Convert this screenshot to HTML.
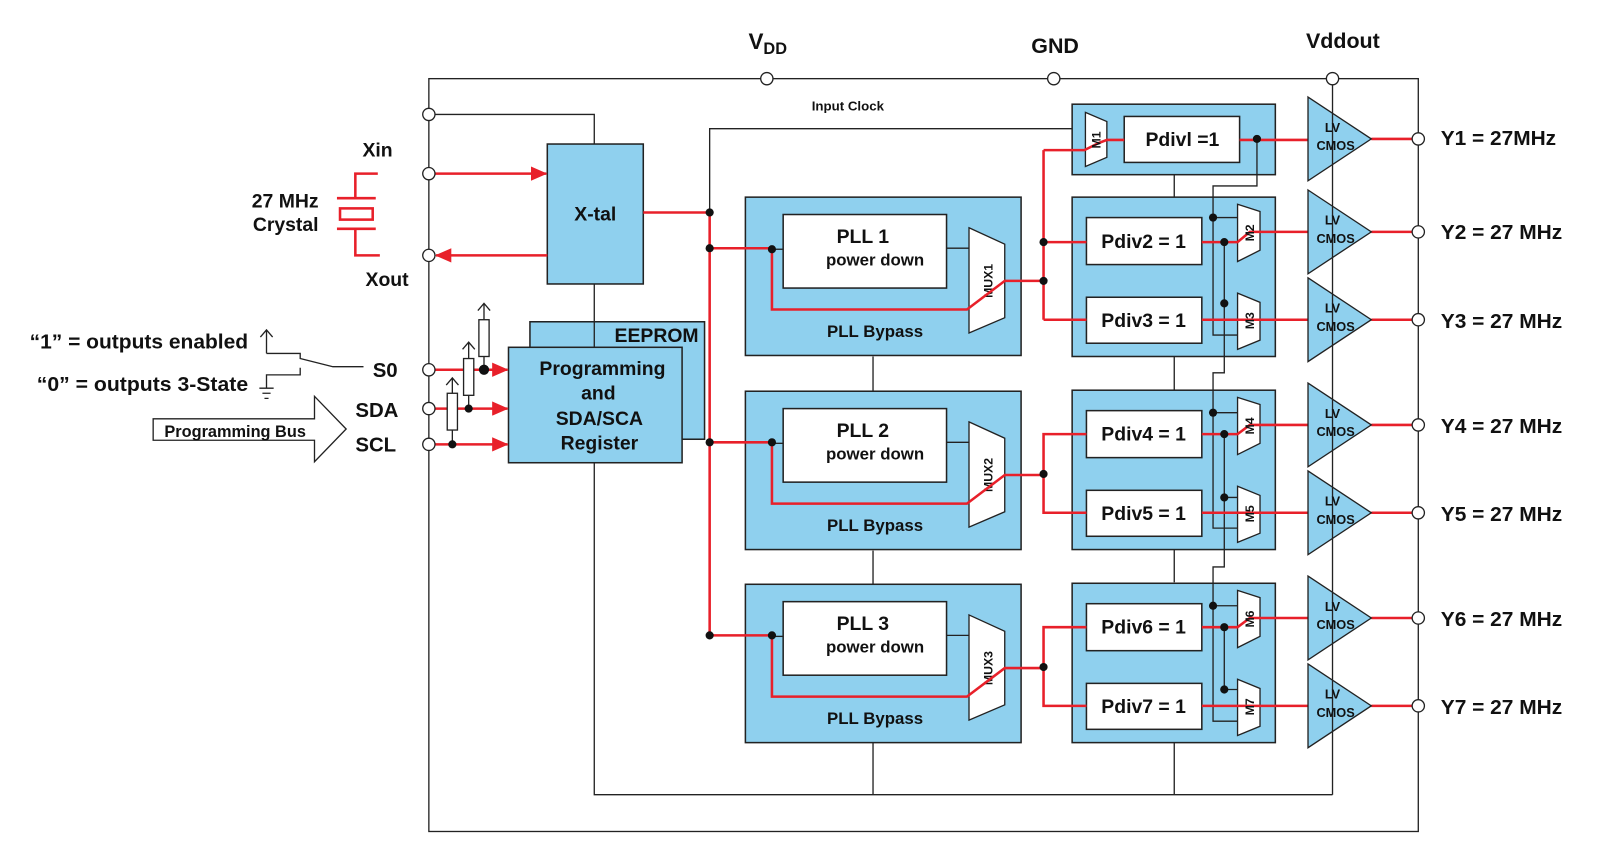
<!DOCTYPE html>
<html><head><meta charset="utf-8"><style>
html,body{margin:0;padding:0;background:#fff}
svg{display:block}
text{font-family:"Liberation Sans",Arial,sans-serif;font-weight:bold;fill:#111}
</style></head><body>
<svg width="1598" height="856" viewBox="0 0 1565 838" preserveAspectRatio="none" xmlns="http://www.w3.org/2000/svg">
<defs>
<marker id="ar" markerWidth="16" markerHeight="14" refX="15" refY="7" orient="auto" markerUnits="userSpaceOnUse" viewBox="0 0 16 14"><path d="M0,0 L16,7 L0,14 z" fill="#e8202a"/></marker>
</defs>
<g fill="none" stroke="#222" stroke-width="1.3">
<rect x="420" y="77" width="969" height="737"/>
<path d="M420,112 H582 V141"/>
<path d="M582,278 V778 H1305"/>
<path d="M855,349 V384 M855,539 V572 M855,727 V778"/>
<path d="M1150,171 V193 M1150,349 V382 M1150,537 V570 M1150,726 V778"/>
<path d="M695,208 V126 H1063"/>
</g>
<text x="733" y="48" font-size="22">V<tspan font-size="16" dy="5">DD</tspan></text>
<text x="1010" y="52" font-size="21">GND</text>
<text x="1279" y="47" font-size="21">Vddout</text>
<text x="795" y="108" font-size="13">Input Clock</text>

<rect x="536" y="141" width="94" height="137" fill="#8fd0ee" stroke="#222" stroke-width="1.5"/>
<text x="583" y="216" font-size="19" text-anchor="middle">X-tal</text>
<rect x="519" y="315" width="171" height="115" fill="#8fd0ee" stroke="#222" stroke-width="1.5"/>
<text x="643" y="335" font-size="19" text-anchor="middle">EEPROM</text>
<line x1="582" y1="315" x2="582" y2="340" stroke="#222" stroke-width="1.3"/>
<rect x="498" y="340" width="170" height="113" fill="#8fd0ee" stroke="#222" stroke-width="1.5"/>
<g font-size="19" text-anchor="middle">
<text x="590" y="367">Programming</text>
<text x="586" y="391">and</text>
<text x="587" y="416">SDA/SCA</text>
<text x="587" y="440">Register</text>
</g>

<g fill="none" stroke="#e8202a" stroke-width="2.5">
<path d="M370,170 H348 V194 M330,194 H368 M330,224 H368 M348,224 V250 H372"/>
<rect x="333" y="204" width="32" height="11"/>
<line x1="426" y1="170" x2="535" y2="170" marker-end="url(#ar)"/>
<line x1="536" y1="250" x2="427" y2="250" marker-end="url(#ar)"/>
<line x1="426" y1="362" x2="497" y2="362" marker-end="url(#ar)"/>
<line x1="426" y1="400" x2="497" y2="400" marker-end="url(#ar)"/>
<line x1="426" y1="435" x2="497" y2="435" marker-end="url(#ar)"/>
</g>
<text x="355" y="153" font-size="19">Xin</text>
<text x="358" y="280" font-size="19">Xout</text>
<text x="312" y="203" font-size="19" text-anchor="end">27 MHz</text>
<text x="312" y="226" font-size="19" text-anchor="end">Crystal</text>

<g fill="#fff" stroke="#222" stroke-width="1.3">
<path d="M474,297 V313 M468,304 L474,297 L480,304 M474,349 V362" fill="none"/>
<rect x="469" y="313" width="10" height="36"/>
<path d="M459,335 V351 M453,342 L459,335 L465,342 M459,387 V400" fill="none"/>
<rect x="454" y="351" width="10" height="36"/>
<path d="M443,370 V385 M437,377 L443,370 L449,377 M443,421 V435" fill="none"/>
<rect x="438" y="385" width="10" height="36"/>
</g>
<g fill="#111"><circle cx="474" cy="362" r="5"/><circle cx="459" cy="400" r="4"/><circle cx="443" cy="435" r="4"/></g>

<g fill="none" stroke="#222" stroke-width="1.3">
<path d="M261,346 V323 M255,330 L261,323 L267,330 M261,346 H294 V351 L326,359 H356"/>
<path d="M294,360 V367 H261 V380 M254,380 H268 M257,385 H265 M259,390 H263"/>
<polygon points="150,410 308,410 308,388 339,420 308,452 308,431 150,431" fill="#fff"/>
</g>
<text x="243" y="341" font-size="20" text-anchor="end" textLength="214" lengthAdjust="spacingAndGlyphs">“1” = outputs enabled</text>
<text x="243" y="383" font-size="20" text-anchor="end" textLength="207" lengthAdjust="spacingAndGlyphs">“0” = outputs 3-State</text>
<text x="161" y="428" font-size="16">Programming Bus</text>
<text x="365" y="369" font-size="20">S0</text>
<text x="348" y="408" font-size="20">SDA</text>
<text x="348" y="442" font-size="20">SCL</text>

<g fill="#fff" stroke="#222" stroke-width="1.3">
<circle cx="420" cy="112" r="6"/><circle cx="420" cy="170" r="6"/><circle cx="420" cy="250" r="6"/>
<circle cx="420" cy="362" r="6"/><circle cx="420" cy="400" r="6"/><circle cx="420" cy="435" r="6"/>
<circle cx="751" cy="77" r="6"/><circle cx="1032" cy="77" r="6"/><circle cx="1305" cy="77" r="6"/>
</g>

<g id="pll1">
<rect x="730" y="193" width="270" height="155" fill="#8fd0ee" stroke="#222" stroke-width="1.5"/>
<rect x="767" y="210" width="160" height="72" fill="#fff" stroke="#222" stroke-width="1.5"/>
<polygon points="949,223 984,239 984,311 949,326" fill="#fff" stroke="#222" stroke-width="1.3"/>
<line x1="927" y1="243" x2="949" y2="243" stroke="#222" stroke-width="1.3"/>
<line x1="756" y1="244" x2="767" y2="244" stroke="#222" stroke-width="1.3"/>
</g>
<use href="#pll1" transform="translate(0,190)"/>
<use href="#pll1" transform="translate(0,379)"/>
<g font-size="19" text-anchor="middle">
<text x="845" y="238">PLL 1</text><text x="845" y="428">PLL 2</text><text x="845" y="617">PLL 3</text>
</g>
<g font-size="16.5" text-anchor="middle">
<text x="857" y="260">power down</text><text x="857" y="450">power down</text><text x="857" y="639">power down</text>
<text x="857" y="330">PLL Bypass</text><text x="857" y="520">PLL Bypass</text><text x="857" y="709">PLL Bypass</text>
</g>
<g font-size="12">
<text transform="translate(972,275) rotate(-90)" text-anchor="middle">MUX1</text>
<text transform="translate(972,465) rotate(-90)" text-anchor="middle">MUX2</text>
<text transform="translate(972,654) rotate(-90)" text-anchor="middle">MUX3</text>
</g>

<rect x="1050" y="102" width="199" height="69" fill="#8fd0ee" stroke="#222" stroke-width="1.5"/>
<rect x="1101" y="114" width="113" height="45" fill="#fff" stroke="#222" stroke-width="1.5"/>
<polygon points="1063,110 1084,119 1084,154 1063,163" fill="#fff" stroke="#222" stroke-width="1.3"/>
<g id="pg">
<rect x="1050" y="193" width="199" height="156" fill="#8fd0ee" stroke="#222" stroke-width="1.5"/>
<rect x="1064" y="213" width="113" height="46" fill="#fff" stroke="#222" stroke-width="1.5"/>
<rect x="1064" y="291" width="113" height="45" fill="#fff" stroke="#222" stroke-width="1.5"/>
<polygon points="1212,200 1234,207 1234,245 1212,256" fill="#fff" stroke="#222" stroke-width="1.3"/>
<polygon points="1212,287 1234,296 1234,333 1212,342" fill="#fff" stroke="#222" stroke-width="1.3"/>
</g>
<use href="#pg" transform="translate(0,189)"/>
<use href="#pg" transform="translate(0,378)"/>

<g fill="none" stroke="#222" stroke-width="1.3">
<path d="M1231,136 V182 H1188 V328 H1212 M1188,213 H1212 M1199,237 V365 H1188 V517 H1212 M1188,404 H1212 M1199,487 H1212 M1199,425 V555 H1188 V706 H1212 M1188,593 H1212 M1199,614 V675 H1212"/>
</g>

<g fill="none" stroke="#e8202a" stroke-width="2.5">
<path d="M630,208 H695 V622"/>
<path d="M695,243 H756 V303 H947 L984,275 H1022"/>
<path d="M695,433 H756 V493 H947 L984,465 H1022"/>
<path d="M695,622 H756 V682 H947 L984,654 H1022"/>
<path d="M1022,147 V313 M1022,147 H1062 L1076,140 L1084,137 H1101 M1214,137 H1281"/>
<path d="M1022,237 H1064 M1022,313 H1064 M1177,237 H1212 L1224,227 H1281 M1177,313 H1281"/>
<path d="M1064,425 H1022 V502 H1064 M1177,425 H1212 L1224,416 H1281 M1177,502 H1281"/>
<path d="M1064,614 H1022 V691 H1064 M1177,614 H1212 L1224,605 H1281 M1177,691 H1281"/>
<path d="M1343,136 H1383 M1343,227 H1383 M1343,313 H1383 M1343,416 H1383 M1343,502 H1383 M1343,605 H1383 M1343,691 H1383"/>
</g>

<g font-size="19" text-anchor="middle">
<text x="1158" y="143">Pdivl =1</text>
<text x="1120" y="243">Pdiv2 = 1</text><text x="1120" y="320">Pdiv3 = 1</text>
<text x="1120" y="431">Pdiv4 = 1</text><text x="1120" y="509">Pdiv5 = 1</text>
<text x="1120" y="620">Pdiv6 = 1</text><text x="1120" y="698">Pdiv7 = 1</text>
</g>
<g font-size="12" text-anchor="middle">
<text transform="translate(1078,137) rotate(-90)">M1</text>
<text transform="translate(1228,228) rotate(-90)">M2</text>
<text transform="translate(1228,314) rotate(-90)">M3</text>
<text transform="translate(1228,417) rotate(-90)">M4</text>
<text transform="translate(1228,503) rotate(-90)">M5</text>
<text transform="translate(1228,606) rotate(-90)">M6</text>
<text transform="translate(1228,692) rotate(-90)">M7</text>
</g>

<g fill="#111">
<circle cx="695" cy="208" r="4"/><circle cx="695" cy="243" r="4"/><circle cx="695" cy="433" r="4"/><circle cx="695" cy="622" r="4"/>
<circle cx="756" cy="244" r="4"/><circle cx="756" cy="433" r="4"/><circle cx="756" cy="622" r="4"/>
<circle cx="1022" cy="237" r="4"/><circle cx="1022" cy="275" r="4"/><circle cx="1022" cy="464" r="4"/><circle cx="1022" cy="653" r="4"/>
<circle cx="1231" cy="136" r="4"/>
<circle cx="1188" cy="213" r="4"/><circle cx="1199" cy="237" r="4"/><circle cx="1199" cy="297" r="4"/>
<circle cx="1188" cy="404" r="4"/><circle cx="1199" cy="425" r="4"/><circle cx="1199" cy="487" r="4"/>
<circle cx="1188" cy="593" r="4"/><circle cx="1199" cy="614" r="4"/><circle cx="1199" cy="675" r="4"/>
</g>

<g fill="#8fd0ee" stroke="#222" stroke-width="1.3">
<polygon points="1281,95 1343,136 1281,177"/>
<polygon points="1281,186 1343,227 1281,268"/>
<polygon points="1281,272 1343,313 1281,354"/>
<polygon points="1281,375 1343,416 1281,457"/>
<polygon points="1281,461 1343,502 1281,543"/>
<polygon points="1281,564 1343,605 1281,646"/>
<polygon points="1281,650 1343,691 1281,732"/>
</g>
<line x1="1305" y1="83" x2="1305" y2="778" stroke="#222" stroke-width="1.3"/>
<g font-size="12.5" text-anchor="middle">
<text x="1305" y="129">LV</text><text x="1308" y="147">CMOS</text>
<text x="1305" y="220">LV</text><text x="1308" y="238">CMOS</text>
<text x="1305" y="306">LV</text><text x="1308" y="324">CMOS</text>
<text x="1305" y="409">LV</text><text x="1308" y="427">CMOS</text>
<text x="1305" y="495">LV</text><text x="1308" y="513">CMOS</text>
<text x="1305" y="598">LV</text><text x="1308" y="616">CMOS</text>
<text x="1305" y="684">LV</text><text x="1308" y="702">CMOS</text>
</g>
<g fill="#fff" stroke="#222" stroke-width="1.3">
<circle cx="1389" cy="136" r="6"/><circle cx="1389" cy="227" r="6"/><circle cx="1389" cy="313" r="6"/>
<circle cx="1389" cy="416" r="6"/><circle cx="1389" cy="502" r="6"/><circle cx="1389" cy="605" r="6"/><circle cx="1389" cy="691" r="6"/>
</g>
<g font-size="20">
<text x="1411" y="142" textLength="113" lengthAdjust="spacingAndGlyphs">Y1 = 27MHz</text>
<text x="1411" y="234" textLength="119" lengthAdjust="spacingAndGlyphs">Y2 = 27 MHz</text>
<text x="1411" y="321" textLength="119" lengthAdjust="spacingAndGlyphs">Y3 = 27 MHz</text>
<text x="1411" y="424" textLength="119" lengthAdjust="spacingAndGlyphs">Y4 = 27 MHz</text>
<text x="1411" y="510" textLength="119" lengthAdjust="spacingAndGlyphs">Y5 = 27 MHz</text>
<text x="1411" y="613" textLength="119" lengthAdjust="spacingAndGlyphs">Y6 = 27 MHz</text>
<text x="1411" y="699" textLength="119" lengthAdjust="spacingAndGlyphs">Y7 = 27 MHz</text>
</g>
</svg>
</body></html>
